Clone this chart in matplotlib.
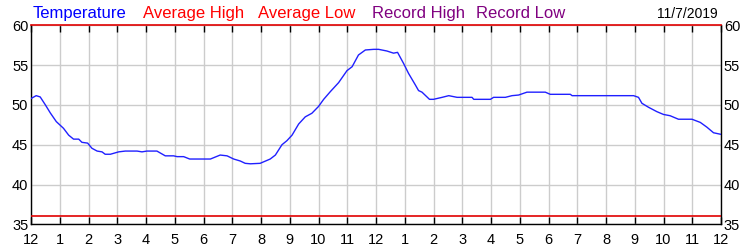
import matplotlib
matplotlib.use('Agg')
import matplotlib.pyplot as plt
import numpy as np

plt.rcParams['font.family'] = ['Liberation Sans Narrow', 'Liberation Sans', 'DejaVu Sans']

# hours since midnight, temperature (F)
hours = [0.0, 0.18, 0.32, 0.50, 0.67, 0.88, 1.13, 1.31, 1.48, 1.66, 1.77, 1.97, 2.12, 2.30,
         2.47, 2.58, 2.76, 3.05, 3.28, 3.69, 3.86, 4.03, 4.38, 4.67, 4.96, 5.08, 5.31, 5.52,
         6.24, 6.58, 6.82, 7.05, 7.28, 7.45, 7.63, 7.97, 8.32, 8.50, 8.73, 8.90, 9.08, 9.31,
         9.54, 9.77, 10.00, 10.18, 10.41, 10.70, 10.99, 11.17, 11.39, 11.63, 11.92, 12.09,
         12.38, 12.61, 12.75, 12.96, 13.13, 13.37, 13.48, 13.60, 13.86, 14.00, 14.30, 14.53,
         14.82, 15.34, 15.40, 15.98, 16.09, 16.50, 16.73, 16.96, 17.25, 17.89, 18.06, 18.76,
         18.82, 20.96, 21.13, 21.25, 21.48, 21.77, 22.00, 22.23, 22.52, 22.99, 23.28, 23.51,
         23.74, 24.0]
temps = [50.8, 51.16, 51.0, 50.0, 49.0, 47.9, 47.06, 46.2, 45.7, 45.7, 45.3, 45.2, 44.55, 44.2,
         44.1, 43.8, 43.8, 44.1, 44.2, 44.2, 44.1, 44.2, 44.2, 43.6, 43.6, 43.5, 43.5, 43.2,
         43.2, 43.7, 43.6, 43.2, 42.95, 42.66, 42.6, 42.66, 43.2, 43.7, 45.0, 45.5, 46.2, 47.6,
         48.5, 48.95, 49.8, 50.7, 51.66, 52.8, 54.3, 54.8, 56.27, 56.9, 56.98, 56.98,
         56.77, 56.5, 56.6, 55.2, 53.97, 52.5, 51.8, 51.6, 50.7, 50.7, 50.95, 51.16,
         50.95, 50.95, 50.7, 50.7, 50.95, 50.95, 51.16, 51.24, 51.6, 51.6, 51.33, 51.33,
         51.16, 51.16, 50.95, 50.2, 49.7, 49.15, 48.8, 48.64, 48.2, 48.2, 47.8, 47.2,
         46.5, 46.3]
avg_high = 60
avg_low = 36
hour_labels = ['12'] + [str(i) for i in range(1, 12)] + ['12'] + [str(i) for i in range(1, 12)] + ['12']
y_ticks = [35, 40, 45, 50, 55, 60]

fig = plt.figure(figsize=(7.5, 2.5), dpi=100)
ax = fig.add_axes([31 / 750, 25.7 / 250, 690 / 750, 199 / 250])

ax.plot(hours, temps, color='#2020ff', lw=1.0, zorder=3)
ax.axhline(avg_high, color='#e00000', lw=1.2, zorder=4, clip_on=False)
ax.axhline(avg_low, color='#e00000', lw=1.2, zorder=4)

ax.set_xlim(0, 24)
ax.set_ylim(35, 60)
ax.set_xticks(range(25))
ax.set_xticklabels(hour_labels)
ax.set_yticks(y_ticks)
ax.grid(True, color='#cccccc', lw=1.0, zorder=0)
ax.set_axisbelow(True)

ax.tick_params(axis='x', direction='in', length=5, width=1, top=True, bottom=True,
               labelsize=10.5, pad=6, colors='black')
ax.tick_params(axis='y', length=0, labelsize=10.5, pad=2, right=True, labelright=True)
for s in ax.spines.values():
    s.set_color('black')
    s.set_linewidth(1)
ax.spines['top'].set_visible(False)

# legend-like header row
fs = 12
ty = 1 - 18 / 250
hdr_font = ['Liberation Sans', 'DejaVu Sans']
fig.text(33 / 750, ty, 'Temperature', color='#0000ff', fontsize=fs, va='baseline', family=hdr_font)
fig.text(143 / 750, ty, 'Average High', color='#ff0000', fontsize=fs, va='baseline', family=hdr_font)
fig.text(258 / 750, ty, 'Average Low', color='#ff0000', fontsize=fs, va='baseline', family=hdr_font)
fig.text(372 / 750, ty, 'Record High', color='#800080', fontsize=fs, va='baseline', family=hdr_font)
fig.text(476 / 750, ty, 'Record Low', color='#800080', fontsize=fs, va='baseline', family=hdr_font)
fig.text(718 / 750, ty, '11/7/2019', color='black', fontsize=10, va='baseline', ha='right')

fig.savefig('out.png', dpi=100)
